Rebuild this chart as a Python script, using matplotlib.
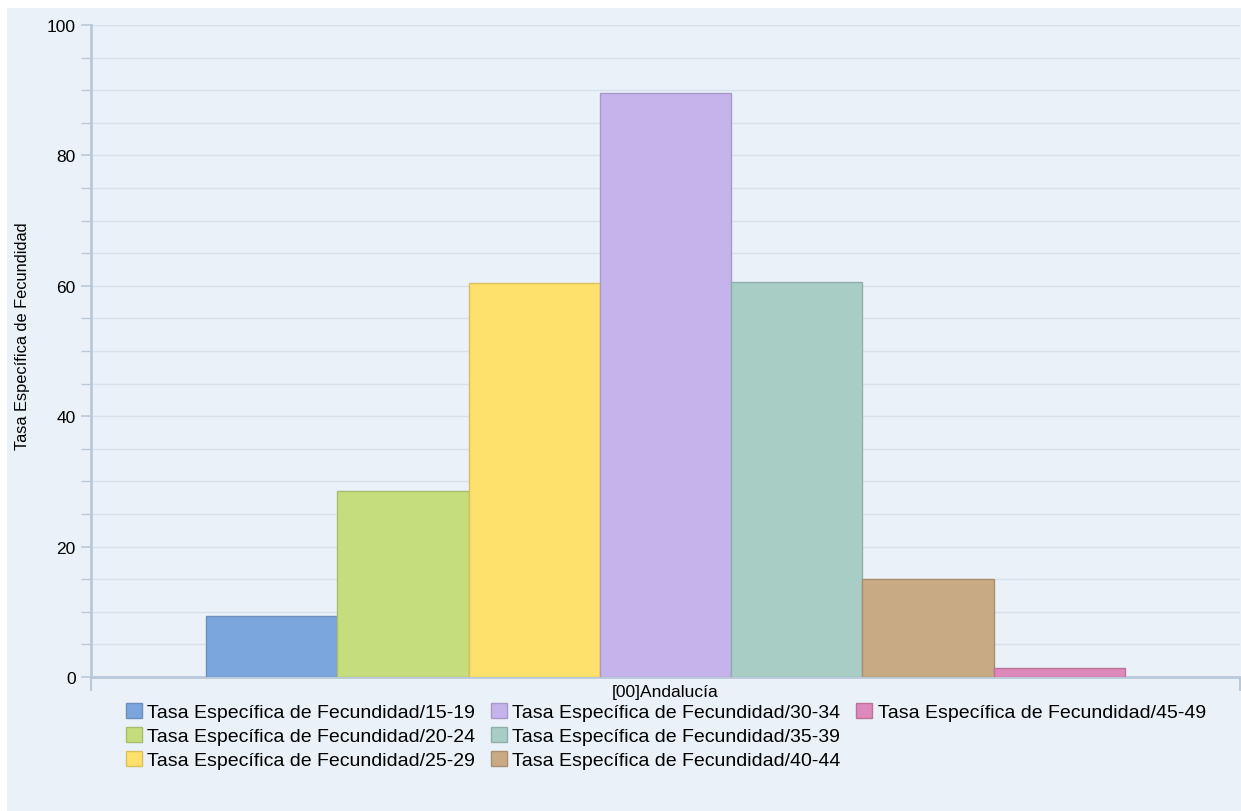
import matplotlib
matplotlib.use('Agg')
import matplotlib.pyplot as plt
from matplotlib.patches import Rectangle
from matplotlib.ticker import MultipleLocator

plt.rcParams['font.family'] = ['Liberation Sans', 'DejaVu Sans']

# Data
region = "[00]Andalucía"
age_groups = ["15-19", "20-24", "25-29", "30-34", "35-39", "40-44", "45-49"]
rates = [9.3, 28.5, 60.4, 89.6, 60.6, 15.0, 1.4]
colors = ['#7ba6dd', '#c6dd7d', '#fde16c', '#c5b3eb', '#a8cdc4', '#c8ab85', '#de89bc']
edges = ['#6a8fbf', '#a9bd6a', '#d9c15c', '#a899c9', '#8fb0a8', '#a98f70', '#bb7399']

bg = '#ebf1f8'
axis_col = '#b9c9da'
grid_col = '#d7e1ec'

fig = plt.figure(figsize=(12.41, 8.12), dpi=100, facecolor='white')
fig.patches.append(Rectangle((7 / 1241, 0), 1, 1 - 9 / 812, transform=fig.transFigure,
                             facecolor=bg, edgecolor='none', zorder=-10))
ax = fig.add_axes([91 / 1241, 1 - 678 / 812, 1149 / 1241, 652 / 812])
ax.set_facecolor(bg)

n = len(rates)
group_w = 0.8
w = group_w / n
handles = []
for i, (lab, v) in enumerate(zip(age_groups, rates)):
    x = -group_w / 2 + w * (i + 0.5)
    b = ax.bar(x, v, width=w, color=colors[i], edgecolor=edges[i], linewidth=1.0,
               label=f"Tasa Específica de Fecundidad/{lab}", zorder=3)
    handles.append(b)

ax.set_xlim(-0.5, 0.5)
ax.set_ylim(0, 100)
ax.yaxis.set_major_locator(MultipleLocator(20))
ax.yaxis.set_minor_locator(MultipleLocator(5))
ax.grid(axis='y', which='both', color=grid_col, linewidth=1.0, zorder=0)
ax.set_axisbelow(True)

ax.set_xticks([0])
ax.set_xticklabels([region], fontsize=12.5)
ax.set_xticks([-0.5, 0.5], minor=True)
ax.tick_params(axis='x', which='major', length=0, pad=5)
ax.tick_params(axis='x', which='minor', length=10, color=axis_col, width=1.5)
ax.tick_params(axis='y', which='major', length=7, color=axis_col, width=1.2,
               labelsize=12.5, pad=4)
ax.tick_params(axis='y', which='minor', length=7, color=axis_col, width=1.0)

for s in ['top', 'right']:
    ax.spines[s].set_visible(False)
for s in ['left', 'bottom']:
    ax.spines[s].set_color(axis_col)
    ax.spines[s].set_linewidth(2)

ax.set_ylabel("Tasa Específica de Fecundidad", fontsize=11.8)
ax.yaxis.set_label_coords(-0.053, 0.525)

# pad with blank entries so the legend fills 3 / 3 / 1 column-wise
blank = Rectangle((0, 0), 1, 1, fill=False, edgecolor='none', visible=False)
leg_handles = handles + [blank, blank]
leg_labels = [h.get_label() for h in handles] + ["", ""]
fig.legend(leg_handles, leg_labels, ncol=3, loc='upper left',
           bbox_to_anchor=(126 / 1241, 1 - 704 / 812), frameon=False,
           fontsize=14, handlelength=0.8, handleheight=0.8,
           handletextpad=0.3, columnspacing=0.8, labelspacing=0.3,
           borderaxespad=0, borderpad=0)

fig.savefig('out.png', dpi=100, facecolor=fig.get_facecolor())
